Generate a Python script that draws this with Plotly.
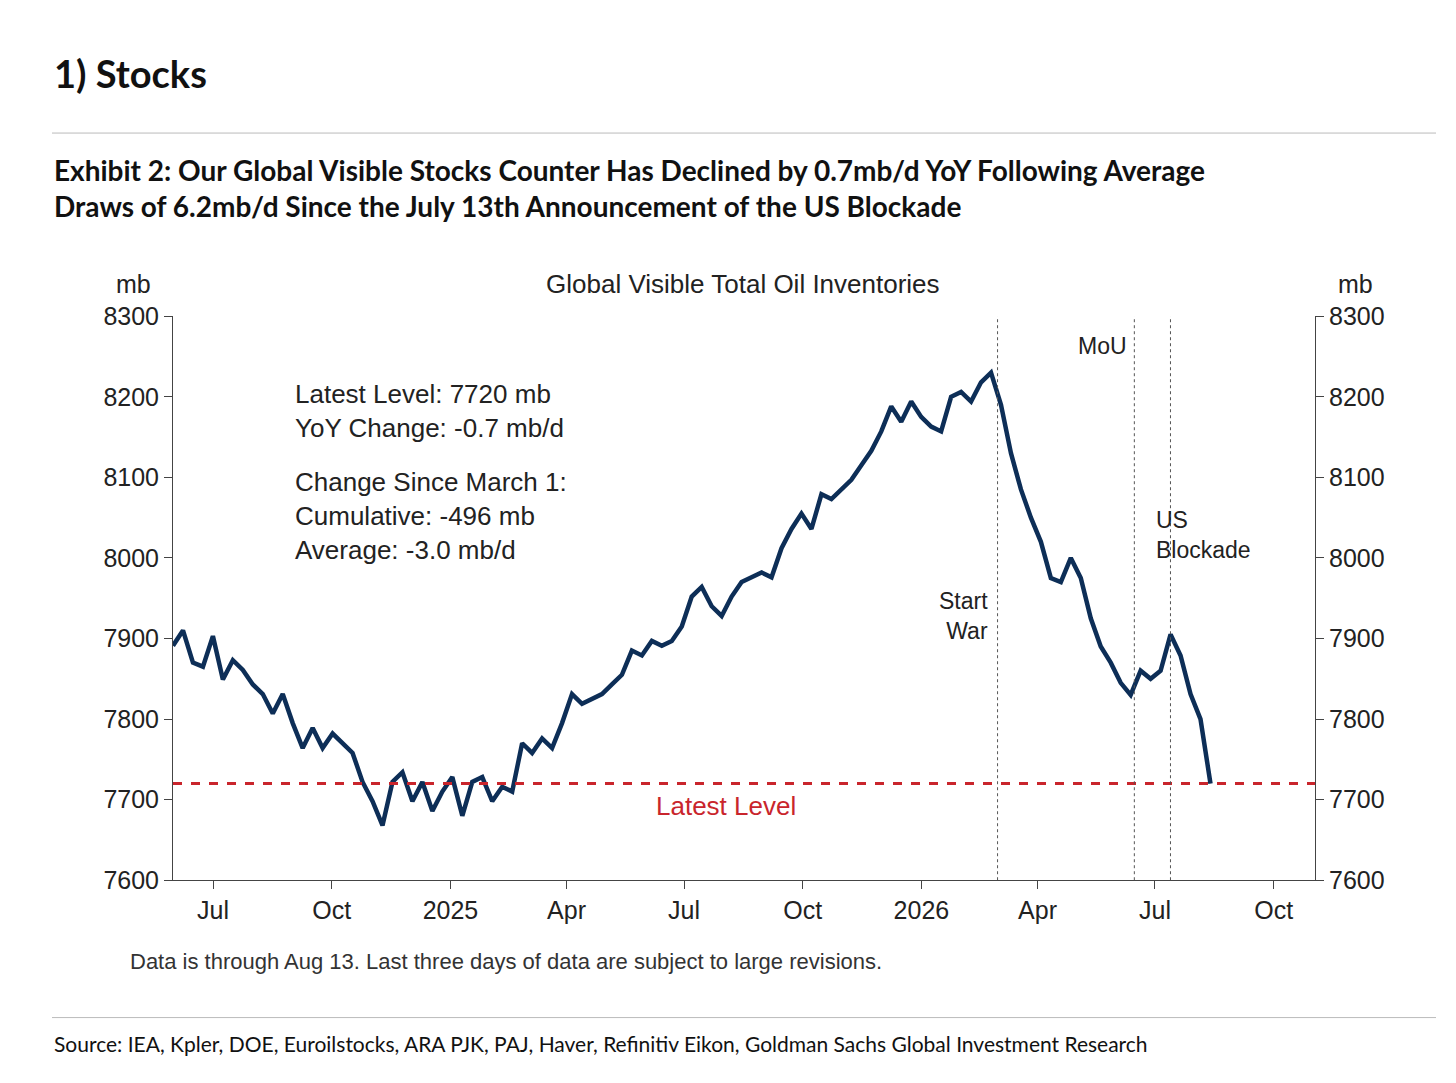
import plotly.graph_objects as go
import pandas as pd

levels = [7891,7910,7870,7865,7903,7849,7873,7861,7843,7831,7807,7831,7795,7764,7789,7764,7782,7770,7758,7722,
          7698,7668,7722,7734,7698,7722,7686,7710,7728,7680,7722,7728,7698,7716,7710,7770,7758,7776,7764,7795,
          7831,7819,7825,7831,7843,7855,7885,7879,7897,7891,7897,7915,7952,7964,7940,7928,7952,7970,7976,7982,
          7976,8012,8036,8055,8036,8079,8073,8085,8097,8115,8133,8157,8188,8169,8194,8175,8163,8157,8200,8206,
          8194,8218,8230,8190,8130,8085,8050,8020,7975,7970,8000,7975,7925,7890,7870,7845,7830,7860,7850,7860,
          7905,7879,7831,7800,7720]
start_date, end_date = "2024-05-31", "2026-08-13"
latest_level = 7720
events = [("2026-03-01", "Start<br>War"), ("2026-06-15", "MoU"), ("2026-07-13", "US<br>Blockade")]
tick_dates = ["2024-07-01","2024-10-01","2025-01-01","2025-04-01","2025-07-01","2025-10-01",
              "2026-01-01","2026-04-01","2026-07-01","2026-10-01"]
tick_labels = ["Jul","Oct","2025","Apr","Jul","Oct","2026","Apr","Jul","Oct"]
y_ticks = [7600,7700,7800,7900,8000,8100,8200,8300]

dates = pd.date_range(start_date, end_date, periods=len(levels))
F = "Liberation Sans, Arial, sans-serif"
TF = "Lato, Open Sans, sans-serif"
W, H = 1456, 1083

fig = go.Figure()
fig.add_trace(go.Scatter(x=dates, y=levels, mode="lines", line=dict(color="#0d2e57", width=4.5), showlegend=False))
fig.add_trace(go.Scatter(x=[dates[0]], y=[levels[0]], yaxis="y2", mode="markers", marker=dict(opacity=0), showlegend=False, hoverinfo="skip"))
fig.add_hline(y=latest_level, line=dict(color="#c9252c", width=3, dash="dash"))
for d, lab in events:
    fig.add_vline(x=d, line=dict(color="#555", width=1, dash="dot"))

ydom = [1 - 881/H, 1 - 302/H]
ax = dict(range=[7600, 8300], tickvals=y_ticks, ticks="outside", ticklen=8, showgrid=False, zeroline=False,
          showline=True, linecolor="#444", tickcolor="#444", domain=ydom,
          tickfont=dict(family=F, size=25, color="#222"))
fig.update_layout(
    width=W, height=H, plot_bgcolor="white", paper_bgcolor="white",
    margin=dict(l=0, r=0, t=0, b=0),
    xaxis=dict(range=["2024-05-31", "2026-11-02"], tickvals=tick_dates, ticktext=tick_labels, ticks="outside",
               ticklen=8, showgrid=False, showline=True, linecolor="#444", tickcolor="#444",
               domain=[165/W, 1307/W], anchor="y",
               tickfont=dict(family=F, size=25, color="#222")),
    yaxis=ax,
    yaxis2=dict(ax, overlaying="y", side="right", anchor="x"),
)

def ann(xp, yp, text, size=25, color="#222", xanchor="left", family=F, weight=None, align="left"):
    fig.add_annotation(x=xp/W, y=1 - yp/H, xref="paper", yref="paper", text=text, showarrow=False, xanchor=xanchor,
                       yanchor="middle", align=align, font=dict(family=family, size=size, color=color, weight=weight))

ann(44, 52, "1) Stocks", size=38, color="#111", family=TF, weight="bold")
ann(44, 170, "Exhibit 2: Our Global Visible Stocks Counter Has Declined by 0.7mb/d YoY Following Average<br>Draws of 6.2mb/d Since the July 13th Announcement of the US Blockade", size=28, color="#111", family=TF, weight="bold")
ann(44, 1049, "Source: IEA, Kpler, DOE, Euroilstocks, ARA PJK, PAJ, Haver, Refinitiv Eikon, Goldman Sachs Global Investment Research", size=21, color="#111", family=TF)
ann(735, 269, "Global Visible Total Oil Inventories", xanchor="center", size=26)
ann(125, 269, "mb", xanchor="center", size=25)
ann(1347, 269, "mb", xanchor="center", size=25)
ann(285, 399, "Latest Level: 7720 mb<br>YoY Change: -0.7 mb/d", size=26)
ann(285, 507, "Change Since March 1:<br>Cumulative: -496 mb<br>Average: -3.0 mb/d", size=26)
ann(982, 610, "Start<br>War", xanchor="right", align="right", size=23)
ann(1094, 333, "MoU", xanchor="center", size=23)
ann(1146, 527, "US<br>Blockade", size=23)
ann(718, 805, "Latest Level", xanchor="center", size=26, color="#c9252c")
ann(120, 964, "Data is through Aug 13. Last three days of data are subject to large revisions.", size=22, color="#333")
for yp in (114, 1022):
    fig.add_shape(type="line", xref="paper", yref="paper", x0=44/W, x1=1428/W, y0=1-yp/H, y1=1-yp/H,
                  line=dict(color="#bbb", width=1))
fig.write_html("out.html")
